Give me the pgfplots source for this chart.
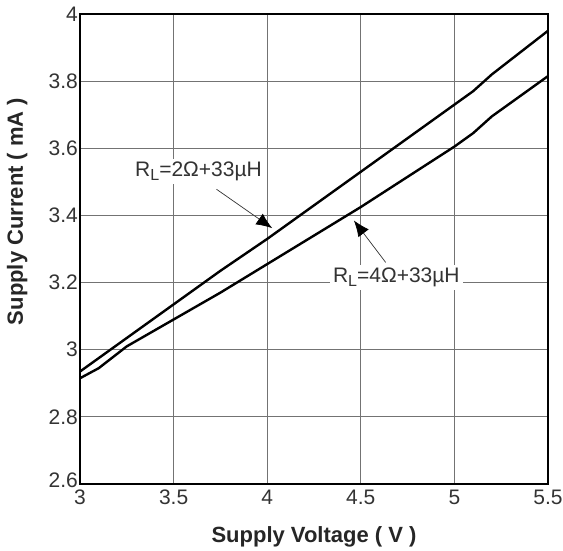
\documentclass[border=0pt]{standalone}
\usepackage{fontspec}
\setmainfont{Liberation Sans}
\usepackage{pgfplots}
\pgfplotsset{compat=1.18}
\usetikzlibrary{arrows.meta}
\begin{document}
\begin{tikzpicture}
\begin{axis}[
  width=468pt, height=470pt, scale only axis,
  xmin=3, xmax=5.5, ymin=2.6, ymax=4,
  xtick={3,3.5,4,4.5,5,5.5},
  ytick={2.6,2.8,3,3.2,3.4,3.6,3.8,4},
  yticklabels={\raisebox{8pt}{2.6},2.8,3,3.2,3.4,3.6,3.8,4},
  grid=major,
  major grid style={draw=black!55, line width=1.1pt},
  axis line style={line width=2.4pt},
  major tick length=0pt,
  clip=false,
  /pgf/number format/assume math mode=true,
  ticklabel style={font=\fontsize{21}{25}\selectfont, text=black!80},
  yticklabel style={inner sep=2pt},
  xticklabel style={inner sep=3pt, yshift=-3pt},
  xlabel={Supply Voltage ( V )},
  ylabel={Supply Current ( mA )},
  label style={font=\fontsize{22}{26}\selectfont\bfseries, text=black!85},
  xlabel style={at={(axis description cs:0.5,0)}, anchor=center, yshift=-53pt},
  ylabel style={at={(axis description cs:-0.134,0.58)}, anchor=center},
]
\coordinate (SW) at (rel axis cs:0,0);
\coordinate (NE) at (rel axis cs:1,1);
\addplot[black, line width=2.4pt] coordinates {
(3,2.935) (3.25,3.035) (3.5,3.135) (3.75,3.235) (4,3.33) (4.25,3.43) (4.5,3.53) (4.75,3.63) (5,3.73) (5.1,3.77) (5.2,3.82) (5.35,3.885) (5.5,3.95)};
\addplot[black, line width=2.4pt] coordinates {
(3,2.915) (3.1,2.945) (3.25,3.01) (3.5,3.09) (3.75,3.17) (4,3.255) (4.25,3.34) (4.5,3.425) (4.75,3.515) (5,3.605) (5.1,3.645) (5.2,3.695) (5.35,3.755) (5.5,3.815)};
\node[fill=white, inner sep=3pt, font=\fontsize{21}{25}\selectfont, text=black!80] at (axis cs:3.633,3.531) {R\raisebox{-0.35ex}{\fontsize{16}{16}\selectfont L}=2Ω+33µH};
\node[fill=white, inner sep=3pt, font=\fontsize{21}{25}\selectfont, text=black!80] at (axis cs:4.69,3.215) {R\raisebox{-0.35ex}{\fontsize{16}{16}\selectfont L}=4Ω+33µH};
\draw[black!80, line width=0.7pt, -{Latex[length=16pt,width=13pt,color=black]}] (axis cs:3.729,3.478) -- (axis cs:4.027,3.362);
\draw[black!80, line width=0.7pt, -{Latex[length=16pt,width=13pt,color=black]}] (axis cs:4.633,3.26) -- (axis cs:4.463,3.385);
\end{axis}
\pgfresetboundingbox
\path[use as bounding box] ([xshift=-80pt,yshift=-67pt]SW) rectangle ([xshift=15pt,yshift=14pt]NE);
\end{tikzpicture}
\end{document}
